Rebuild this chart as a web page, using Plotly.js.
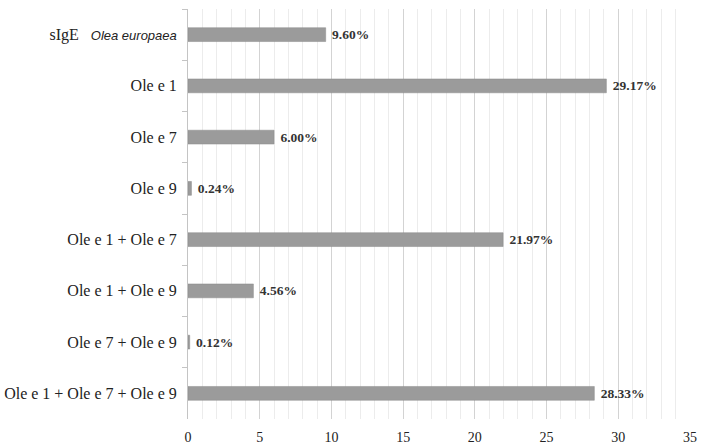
<!DOCTYPE html>
<html>
<head>
<meta charset="utf-8">
<script src="https://cdn.plot.ly/plotly-3.0.1.min.js"></script>
<style>html,body{margin:0;padding:0;background:#fff;}#chart{width:702px;height:446px;}</style>
</head>
<body>
<div id="chart"></div>
<script>
var categories = [
  'sIgE   <span style="font-family:Liberation Sans;font-size:13px;font-style:italic">Olea europaea</span>',
  'Ole e 1',
  'Ole e 7',
  'Ole e 9',
  'Ole e 1 + Ole e 7',
  'Ole e 1 + Ole e 9',
  'Ole e 7 + Ole e 9',
  'Ole e 1 + Ole e 7 + Ole e 9'
];
var values = [9.60, 29.17, 6.00, 0.24, 21.97, 4.56, 0.12, 28.33];
var labels = ['9.60%', '29.17%', '6.00%', '0.24%', '21.97%', '4.56%', '0.12%', '28.33%'];
var xTicks = [0, 5, 10, 15, 20, 25, 30, 35];

var trace = {
  type: 'bar',
  orientation: 'h',
  y: categories,
  x: values,
  text: labels,
  texttemplate: '\u2005%{text}',
  textposition: 'outside',
  constraintext: 'none',
  cliponaxis: false,
  textfont: {family: 'Liberation Serif', size: 13.5, color: '#333333', weight: 'bold'},
  marker: {color: '#9b9b9b', line: {color: '#8a8a8a', width: 0.5}},
  width: 0.27,
  hoverinfo: 'none'
};

var layout = {
  width: 702,
  height: 446,
  margin: {l: 188, r: 12, t: 9, b: 27},
  paper_bgcolor: '#ffffff',
  plot_bgcolor: '#ffffff',
  showlegend: false,
  font: {family: 'Liberation Serif', color: '#222222'},
  xaxis: {
    range: [0, 35],
    tickvals: xTicks,
    ticktext: xTicks.map(String),
    tickfont: {family: 'Liberation Serif', size: 14, color: '#222222'},
    showgrid: true,
    gridcolor: '#d3d3d3',
    gridwidth: 1,
    zeroline: false,
    showline: false,
    ticks: '',
    ticklabelstandoff: 8,
    minor: {dtick: 1, showgrid: true, gridcolor: '#ececec', gridwidth: 1}
  },
  yaxis: {
    type: 'category',
    categoryorder: 'array',
    categoryarray: categories,
    autorange: 'reversed',
    tickfont: {family: 'Liberation Serif', size: 16, color: '#222222'},
    showline: true,
    linecolor: '#c4c4c4',
    linewidth: 1,
    ticks: 'outside',
    tickson: 'boundaries',
    ticklen: 5,
    tickcolor: '#c4c4c4',
    ticklabelstandoff: 7,
    showgrid: false,
    zeroline: false
  }
};

Plotly.newPlot('chart', [trace], layout, {displayModeBar: false, staticPlot: true});
</script>
</body>
</html>
